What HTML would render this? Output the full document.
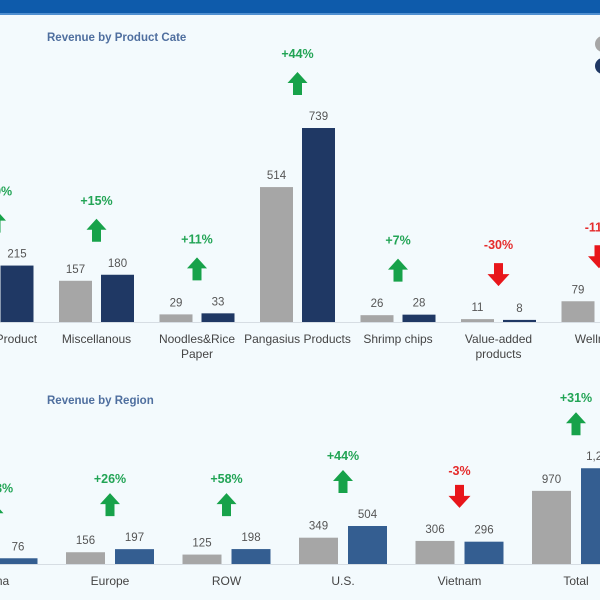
<!DOCTYPE html>
<html><head><meta charset="utf-8"><style>
html,body{margin:0;padding:0;width:600px;height:600px;overflow:hidden;background:#f3fafd;}
svg{display:block;font-family:"Liberation Sans",sans-serif;}
</style></head><body>
<svg id="c" width="600" height="600" viewBox="0 0 600 600">
<rect x="0" y="0" width="600" height="600" fill="#f3fafd"/>
<rect x="0" y="0" width="600" height="13" fill="#0e5bab"/>
<rect x="0" y="13" width="600" height="2" fill="#4f8fd0"/>
<text x="47" y="41" font-size="11.5" font-weight="bold" fill="#4f6f9f">Revenue by Product Cate</text>
<text x="47" y="404" font-size="11.5" font-weight="bold" fill="#4f6f9f">Revenue by Region</text>
<circle cx="603" cy="44" r="8" fill="#a6a6a6"/>
<circle cx="603" cy="66" r="8" fill="#1f3864"/>
<g id="top"></g>
<g id="bot"></g>
</svg>
<script>
const productCats = [["Frozen Product"],["Miscellanous"],["Noodles&Rice","Paper"],["Pangasius Products"],["Shrimp chips"],["Value-added","products"],["Wellness"]];
const productPrev = [179,157,29,514,26,11,79];
const productCurr = [215,180,33,739,28,8,70];
const productPct = ["+20%","+15%","+11%","+44%","+7%","-30%","-11%"];

const regionCats = ["China","Europe","ROW","U.S.","Vietnam","Total"];
const regionPrev = [34,156,125,349,306,970];
const regionCurr = [76,197,198,504,296,1270];
const regionPct = ["+123%","+26%","+58%","+44%","-3%","+31%"];

const NS="http://www.w3.org/2000/svg";
function mk(tag,attrs,parent,txt){const e=document.createElementNS(NS,tag);for(const k in attrs)e.setAttribute(k,attrs[k]);if(txt!==undefined)e.textContent=txt;parent.appendChild(e);return e;}

function arrow(g,cx,bottom,up,color){
  let pts;
  if(up){pts=[[cx-4.5,bottom],[cx+4.5,bottom],[cx+4.5,bottom-12],[cx+10,bottom-12],[cx,bottom-23],[cx-10,bottom-12],[cx-4.5,bottom-12]];}
  else{const t=bottom-23;pts=[[cx-4.5,t],[cx+4.5,t],[cx+4.5,t+11],[cx+11,t+11],[cx,bottom],[cx-11,t+11],[cx-4.5,t+11]];}
  const p=mk('polygon',{points:pts.map(a=>a.join(',')).join(' '),fill:color},g);
  
  
}

function draw(g,cfg){
  const x=i=>cfg.x0+i*cfg.pitch;
  const y=v=>cfg.base-v*cfg.scale;
  const line=mk('line',{x1:0,x2:600,y1:cfg.base+0.5,y2:cfg.base+0.5,stroke:'#d6dde3','stroke-width':1},g);
  
  
  cfg.cats.forEach((cat,i)=>{
    const c=x(i);
    [[cfg.prev[i],c-cfg.off-cfg.w,'#a6a6a6','prior'],[cfg.curr[i],c+cfg.off,cfg.navy,'current']].forEach(([v,bx,col,nm])=>{
      const r=mk('rect',{x:bx,y:y(v),width:cfg.w,height:cfg.base-y(v),fill:col},g);
      
      
      const t=mk('text',{x:bx+cfg.w/2,y:y(v)-8,'font-size':11.5,fill:'#555','text-anchor':'middle'},g,v>=1000?v.toLocaleString('en-US'):String(v));
      
      
    });
    const lines=Array.isArray(cat)?cat:[cat];
    lines.forEach((ln,k)=>{
      const t=mk('text',{x:c,y:cfg.base+21+k*15,'font-size':12,fill:'#444','text-anchor':'middle'},g,ln);
      
      
    });
    const top=Math.min(y(cfg.prev[i]),y(cfg.curr[i]));
    const up=cfg.pct[i][0]==='+';
    const col=up?'#17a24a':'#e8161b';
    arrow(g,c,top-cfg.aOff,up,col);
    const t=mk('text',{x:c,y:top-cfg.lOff,'font-size':12.5,'font-weight':'bold',fill:up?'#22a455':'#e52b2b','text-anchor':'middle'},g,cfg.pct[i]);
    
    
  });
}
draw(document.getElementById('top'),{cats:productCats,prev:productPrev,curr:productCurr,pct:productPct,x0:-4,pitch:100.5,base:322,scale:0.2625,w:33,off:4.5,navy:'#1f3864',aOff:33,lOff:70});
draw(document.getElementById('bot'),{cats:regionCats,prev:regionPrev,curr:regionCurr,pct:regionPct,x0:-6.5,pitch:116.5,base:564,scale:0.0754,w:39,off:5,navy:'#345e91',aOff:33,lOff:66});
</script>
</body></html>
